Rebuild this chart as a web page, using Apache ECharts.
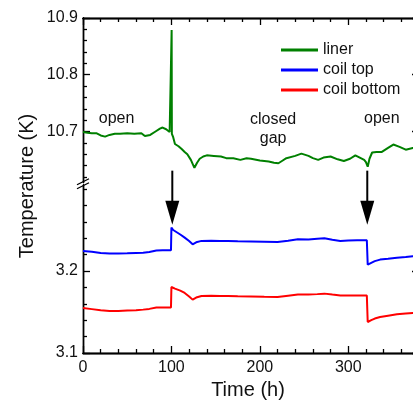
<!DOCTYPE html>
<html>
<head>
<meta charset="utf-8">
<script src="https://cdn.jsdelivr.net/npm/echarts@6/dist/echarts.min.js"></script>
<style>html,body{margin:0;padding:0;background:#fff;}#c{width:413px;height:402px;}</style>
</head>
<body>
<div id="c"></div>
<script>
// ---- data ----
var linerTimes = [0,5,10,15,20,25,30,36,42,50,58,66,70,76,82,87,90,94,98,100,100.25,100.5,102,104,108,111.6,115,118,122,126,129,132,136,140,148,156,162,170,178,185,190,200,210,216,221,225,230,240,247,255,260,266,272,280,288,295,302,308,313,318,320,322,324,327,332,338,345,351,358,365,373,380];
var linerValues = [10.699,10.698,10.697,10.697,10.693,10.691,10.694,10.696,10.696,10.697,10.696,10.697,10.692,10.694,10.700,10.705,10.707,10.704,10.699,10.698,10.879,10.696,10.690,10.678,10.674,10.669,10.664,10.660,10.650,10.636,10.645,10.652,10.656,10.658,10.657,10.656,10.653,10.653,10.650,10.653,10.652,10.649,10.647,10.645,10.644,10.648,10.653,10.657,10.661,10.657,10.653,10.650,10.654,10.656,10.651,10.648,10.652,10.658,10.654,10.650,10.646,10.638,10.652,10.663,10.664,10.664,10.671,10.677,10.673,10.668,10.671,10.670];
var coilTimes = [0,10,20,30,40,50,60,68,75,83,90,99.5,100,102,104,110,115,120,124,128,134,145,155,164,175,190,205,220,232,243,255,265,273,282,291,300,310,321,322,326,330,336,345,355,365,373,380];
var coilTopValues = [3.2244,3.2235,3.2220,3.2212,3.2212,3.2215,3.2220,3.2224,3.2232,3.2249,3.2252,3.2252,3.2529,3.2500,3.2476,3.2445,3.2407,3.2365,3.2326,3.2350,3.2367,3.2370,3.2367,3.2367,3.2362,3.2360,3.2357,3.2354,3.2370,3.2387,3.2385,3.2393,3.2399,3.2380,3.2367,3.2372,3.2376,3.2374,3.2078,3.2100,3.2120,3.2139,3.2150,3.2163,3.2172,3.2180,3.2182];
var coilBottomValues = [3.1549,3.1535,3.1520,3.1512,3.1512,3.1518,3.1522,3.1529,3.1538,3.1554,3.1556,3.1556,3.1805,3.1795,3.1785,3.1760,3.1732,3.1690,3.1651,3.1676,3.1695,3.1697,3.1695,3.1695,3.1692,3.1690,3.1686,3.1683,3.1698,3.1712,3.1712,3.1718,3.1724,3.1712,3.1702,3.1702,3.1702,3.1700,3.1378,3.1400,3.1420,3.1439,3.1455,3.1472,3.1482,3.1488,3.1490];

var xRange = [0,380];
var xMajorTicks = [0,100,200,300];
var xMinorTicks = [20,40,60,80,120,140,160,180,220,240,260,280,320,340,360];
var yTopRange = [10.61,10.9];
var yBotRange = [3.1,3.305];
var yTopMajorTicks = [10.7,10.8,10.9];
var yTopMinorTicks = [10.62,10.64,10.66,10.68,10.72,10.74,10.76,10.78,10.82,10.84,10.86,10.88];
var yBotMajorTicks = [3.1,3.2];
var yBotMinorTicks = [3.12,3.14,3.16,3.18,3.22,3.24,3.26,3.28,3.30];

var annotationTexts = ['open','closed\ngap','open'];
var annotationTimes = [38,215,338];
var annotationTemps = [10.723,10.705,10.723];
var arrowTimes = [101,321.5];
var arrowTopTemp = 10.631;
var arrowTipTemp = 3.2565;

function zip(a,b){return a.map(function(t,i){return [t,b[i]];});}

var FONT = 'Liberation Sans, Arial, Helvetica, sans-serif';
var AX = {color:'#000', width:1.3};
var TOP_K = 567.5, BOT_K = 820; // px per kelvin in each panel
var L = 83, R = 419, T = 18, B = 353;
var hTop = (yTopRange[1]-yTopRange[0])*TOP_K;
var hBot = (yBotRange[1]-yBotRange[0])*BOT_K;
var tBot = B - hBot;
function G(left,top,width,height){return {left:left, top:top, width:width, height:height, outerBoundsMode:'none', containLabel:false};}

var grids = [
  G(L,T,R-L,hTop),      // 0 upper data
  G(L,tBot,R-L,hBot),   // 1 lower data
  G(0,T,L,hTop),        // 2 ticks: left of upper panel
  G(0,tBot,L,hBot),     // 3 ticks: left of lower panel
  G(R,T,60,hTop),       // 4 ticks: right of upper panel
  G(R,tBot,60,hBot),    // 5 ticks: right of lower panel
  G(L,0,R-L,T),         // 6 ticks: above plot
  G(L,B,R-L,40)         // 7 ticks: below plot
];

function hiddenX(grid){return {type:'value', gridIndex:grid, min:xRange[0], max:xRange[1], show:false};}
function hiddenY(grid,r){return {type:'value', gridIndex:grid, min:r[0], max:r[1], show:false};}
function xAx(grid,pos,ticks,len,labels){
  return {type:'value', gridIndex:grid, position:pos, min:xRange[0], max:xRange[1],
    axisLine:{show:true, onZero:false, lineStyle:AX},
    axisTick:{show:len>0, length:len, customValues:ticks||[], lineStyle:AX},
    axisLabel:{show:!!labels, customValues:labels||[], margin:7, fontSize:16, color:'#111', fontFamily:FONT},
    splitLine:{show:false}};
}
function yAx(grid,pos,r,ticks,len,labels){
  return {type:'value', gridIndex:grid, position:pos, min:r[0], max:r[1],
    axisLine:{show:true, onZero:false, lineStyle:AX},
    axisTick:{show:len>0, length:len, customValues:ticks||[], lineStyle:AX},
    axisLabel:{show:!!labels, customValues:labels||[], margin:5, fontSize:16, color:'#111', fontFamily:FONT,
      formatter:function(v){return (+v).toFixed(1);}},
    splitLine:{show:false}};
}

var xAxes = [
  xAx(0,'top',null,0,null),             // 0 upper data
  xAx(1,'bottom',null,0,xMajorTicks),   // 1 lower data with labels
  hiddenX(2), hiddenX(3), hiddenX(4), hiddenX(5),
  xAx(6,'bottom',xMajorTicks,7,null),   // 6 ticks pointing down into plot
  xAx(6,'bottom',xMinorTicks,4,null),
  xAx(7,'top',xMajorTicks,7,null),      // 8 ticks pointing up into plot
  xAx(7,'top',xMinorTicks,4,null)
];
var yAxes = [
  yAx(0,'left',yTopRange,null,0,yTopMajorTicks),
  yAx(1,'left',yBotRange,null,0,yBotMajorTicks),
  yAx(2,'right',yTopRange,yTopMajorTicks,7,null),
  yAx(2,'right',yTopRange,yTopMinorTicks,4,null),
  yAx(3,'right',yBotRange,yBotMajorTicks,7,null),
  yAx(3,'right',yBotRange,yBotMinorTicks,4,null),
  yAx(4,'left',yTopRange,yTopMajorTicks,7,null),
  yAx(4,'left',yTopRange,yTopMinorTicks,4,null),
  yAx(5,'left',yBotRange,yBotMajorTicks,7,null),
  yAx(5,'left',yBotRange,yBotMinorTicks,4,null),
  hiddenY(6,[0,1]), hiddenY(7,[0,1])
];
// every grid needs an x and y axis: map grid -> axes present
var chart = echarts.init(document.getElementById('c'), null, {renderer:'canvas'});
var option = {
  animation:false,
  backgroundColor:'#fff',
  grid:grids,
  xAxis:xAxes,
  yAxis:yAxes,
  legend:{
    orient:'vertical', left:276, top:37, itemWidth:37, itemHeight:3, itemGap:4,
    icon:'rect', selectedMode:false,
    textStyle:{fontSize:16, color:'#111', fontFamily:FONT, lineHeight:16},
    data:['liner','coil top','coil bottom']
  },
  series:[
    {name:'liner', type:'line', xAxisIndex:0, yAxisIndex:0, data:zip(linerTimes,linerValues),
      showSymbol:false, lineStyle:{width:2, color:'#008000'}, itemStyle:{color:'#008000'}},
    {name:'coil top', type:'line', xAxisIndex:1, yAxisIndex:1, data:zip(coilTimes,coilTopValues),
      showSymbol:false, lineStyle:{width:2, color:'#0000ff'}, itemStyle:{color:'#0000ff'}},
    {name:'coil bottom', type:'line', xAxisIndex:1, yAxisIndex:1, data:zip(coilTimes,coilBottomValues),
      showSymbol:false, lineStyle:{width:2, color:'#ff0000'}, itemStyle:{color:'#ff0000'}}
  ]
};
chart.setOption(option);

var g = [];
g.push({type:'text', x:27, y:186, rotation:Math.PI/2,
  style:{text:'Temperature (K)', fontSize:20, fontFamily:FONT, fill:'#111', align:'center', verticalAlign:'middle'}});
g.push({type:'text', x:248, y:390,
  style:{text:'Time (h)', fontSize:20, fontFamily:FONT, fill:'#111', align:'center', verticalAlign:'middle'}});
annotationTexts.forEach(function(txt,i){
  var p = chart.convertToPixel({gridIndex:0},[annotationTimes[i],annotationTemps[i]]);
  g.push({type:'text', x:p[0], y:p[1],
    style:{text:txt, fontSize:16, lineHeight:19, fontFamily:FONT, fill:'#111', align:'center', verticalAlign:'middle'}});
});
arrowTimes.forEach(function(t){
  var a = chart.convertToPixel({gridIndex:0},[t,arrowTopTemp]);
  var b = chart.convertToPixel({gridIndex:1},[t,arrowTipTemp]);
  g.push({type:'line', shape:{x1:a[0],y1:a[1],x2:a[0],y2:b[1]-20}, style:{stroke:'#000', lineWidth:2}});
  g.push({type:'polygon', shape:{points:[[a[0]-7,b[1]-24],[a[0]+7,b[1]-24],[a[0],b[1]]]}, style:{fill:'#000'}});
});
var yb = (chart.convertToPixel({gridIndex:0},[0,yTopRange[0]])[1] + chart.convertToPixel({gridIndex:1},[0,yBotRange[1]])[1])/2;
var xl = chart.convertToPixel({gridIndex:0},[0,10.7])[0];
g.push({type:'rect', shape:{x:xl-2,y:yb-2,width:4,height:4}, style:{fill:'#fff'}});
g.push({type:'line', shape:{x1:xl-6,y1:yb+1,x2:xl+6,y2:yb-5}, style:{stroke:'#000', lineWidth:1.3}});
g.push({type:'line', shape:{x1:xl-6,y1:yb+5,x2:xl+6,y2:yb-1}, style:{stroke:'#000', lineWidth:1.3}});
chart.setOption({graphic:g});
</script>
</body>
</html>
